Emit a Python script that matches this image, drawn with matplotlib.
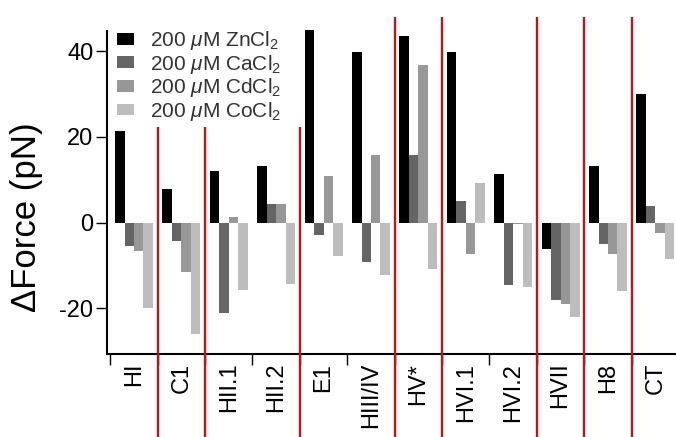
import numpy as np
import matplotlib
matplotlib.use("Agg")
import matplotlib.pyplot as plt

plt.rcParams["font.family"] = ["Liberation Sans", "DejaVu Sans"]
plt.rcParams["mathtext.fontset"] = "custom"
plt.rcParams["mathtext.rm"] = "Liberation Sans"
plt.rcParams["mathtext.it"] = "Liberation Sans:italic"

# data
domains = ["HI", "C1", "HII.1", "HII.2", "E1", "HIII/IV", "HV*",
           "HVI.1", "HVI.2", "HVII", "H8", "CT"]
zn = [21.4, 7.8, 12.0, 13.3, 45.0, 39.8, 43.5, 39.8, 11.3, -6.1, 13.3, 30.1]
ca = [-5.4, -4.4, -21.1, 4.3, -3.0, -9.1, 15.8, 5.1, -14.7, -18.2, -5.0, 3.8]
cd = [-6.7, -11.5, 1.4, 4.3, 10.8, 15.8, 36.7, -7.3, -0.3, -19.0, -7.3, -2.5]
co = [-19.9, -26.0, -15.8, -14.3, -7.7, -12.2, -10.8, 9.2, -15.0, -22.1, -15.9, -8.5]
labels = ["200 $\\mu$M ZnCl$_2$", "200 $\\mu$M CaCl$_2$",
          "200 $\\mu$M CdCl$_2$", "200 $\\mu$M CoCl$_2$"]
colors = ["#000000", "#656565", "#979797", "#bdbdbd"]
# red separators sit after these category indices
separators = [0, 1, 3, 5, 6, 8, 9, 10]
short_separators = [0, 1, 3]   # the ones hidden behind the legend

fig = plt.figure(figsize=(6.76, 4.37), dpi=100)
ax = fig.add_axes([107.3 / 676, 82.7 / 437, (676 - 107.3) / 676, 337.3 / 437])

x = np.arange(len(domains))
w = 0.2
for k, (vals, lab, col) in enumerate(zip([zn, ca, cd, co], labels, colors)):
    ax.bar(x + (k - 1.5) * w, vals, width=w, color=col, label=lab,
           linewidth=0, zorder=2)

for s in separators:
    top = 22.3 if s in short_separators else 48.0
    ax.vlines(s + 0.5, -60, top, colors="#c0141c", linewidth=1.7,
              clip_on=False, zorder=3)

ax.set_xlim(-0.563, 11.435)
ax.set_ylim(-30.77, 48.0)

for side in ["top", "right"]:
    ax.spines[side].set_visible(False)
ax.spines["left"].set_bounds(-30.77, 44.8)
ax.spines["left"].set_linewidth(1.5)
ax.spines["bottom"].set_linewidth(1.5)

ax.set_yticks([-20, 0, 20, 40])
ax.set_yticklabels(["-20", "0", "20", "40"])
ax.tick_params(axis="y", direction="out", length=8, width=1.0,
               labelsize=17, pad=2)

ax.set_xticks(x)
ax.set_xticklabels(domains, rotation=90, fontsize=17)
ax.tick_params(axis="x", which="major", length=0, pad=6)
ax.set_xticks(np.arange(0, 12) - 0.5, minor=True)
ax.tick_params(axis="x", which="minor", direction="out", length=8, width=1.0)

ax.set_ylabel("\u0394Force (pN)", fontsize=25)
ax.yaxis.set_label_coords(-0.113, 0.407)

ax.legend(loc="upper left", bbox_to_anchor=(116.7 / 676, 1 - 29 / 437),
          bbox_transform=fig.transFigure, frameon=False, fontsize=15,
          handlelength=0.85, handleheight=0.5, handletextpad=0.75,
          labelspacing=0.03, borderpad=0, borderaxespad=0,
          labelcolor="#333333")

fig.savefig("out.png", dpi=100)
